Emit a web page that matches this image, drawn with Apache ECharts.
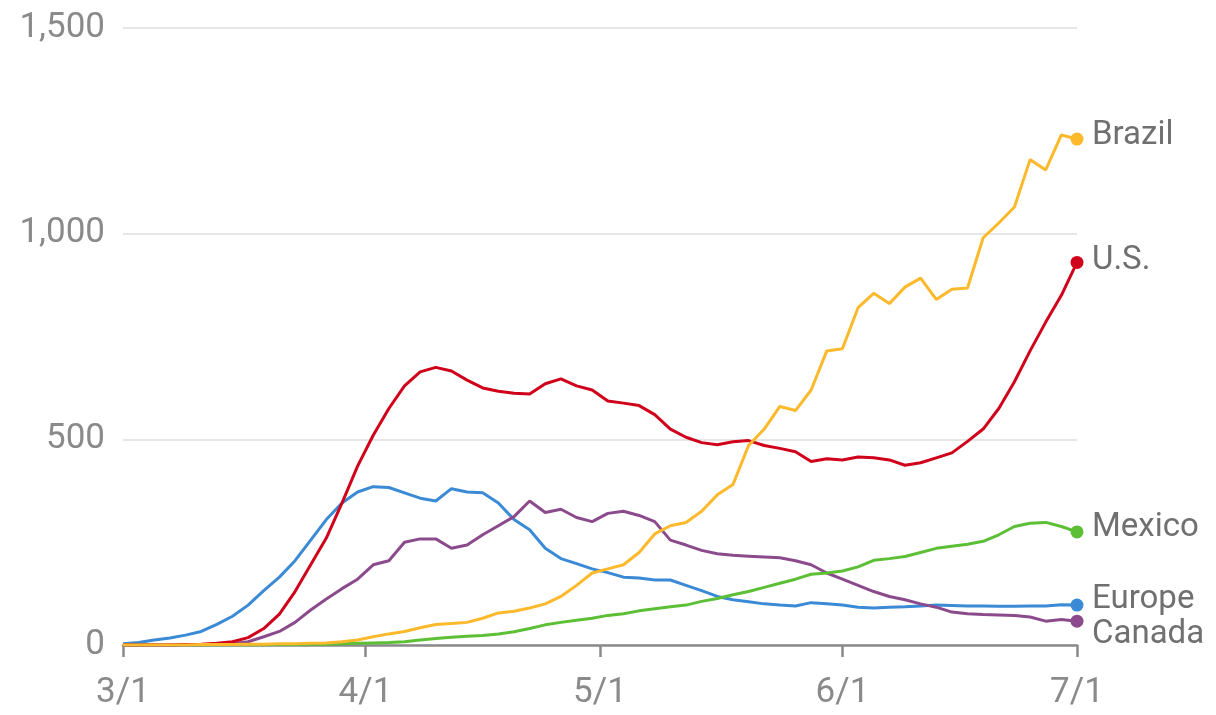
<!DOCTYPE html>
<html>
<head>
<meta charset="utf-8">
<script src="https://cdn.jsdelivr.net/npm/echarts@6/dist/echarts.min.js"></script>
<style>
  html, body { margin: 0; padding: 0; background: #fff; }
  #myChart { width: 1216px; height: 715px; }
</style>
</head>
<body>
<div id="myChart"></div>
<script>
// days since 3/1, sampled every other day
var days = [0,2,4,6,8,10,12,14,16,18,20,22,24,26,28,30,32,34,36,38,40,42,44,46,48,50,52,54,56,58,60,
  62,64,66,68,70,72,74,76,78,80,82,84,86,88,90,92,94,96,98,100,102,104,106,108,110,112,114,116,118,120,122];

var tickDays = [0, 31, 61, 92, 122];
var tickLabels = ['3/1', '4/1', '5/1', '6/1', '7/1'];
var yTicks = [0, 500, 1000, 1500];

var europe = [3,6,12,17,24,33,50,70,97,132,165,205,255,305,345,372,385,383,370,357,350,380,372,370,345,305,280,235,210,198,185,
  176,165,163,158,158,145,132,118,110,105,100,97,95,103,100,97,92,90,92,93,95,97,96,95,95,94,94,95,95,98,97];

var canada = [0,0,0,0,0,0,1,3,8,20,33,55,85,112,137,160,195,205,250,258,258,235,243,268,290,312,350,322,330,310,300,
  320,325,315,300,255,243,230,222,218,216,214,212,205,195,175,160,145,130,118,110,100,92,80,76,74,73,72,68,58,62,58];

var mexico = [0,0,0,0,0,0,0,0,0,0,1,1,2,2,3,4,5,6,8,12,16,19,21,23,27,32,40,49,55,60,65,
  72,76,83,88,93,97,106,113,122,130,140,150,160,172,175,180,190,206,210,215,225,235,240,245,252,268,288,296,298,288,275];

var us = [0,0,0,0,1,2,4,8,18,40,75,130,195,260,345,435,510,575,630,664,675,666,644,625,617,612,610,635,647,630,620,
  593,588,582,560,525,505,492,487,494,497,485,478,470,446,453,450,457,455,450,437,443,455,467,495,525,575,640,715,785,850,930];

var brazil = [0,0,0,0,0,1,1,1,2,2,3,3,4,5,8,12,20,27,33,42,50,52,55,65,78,82,90,100,118,145,175,
  185,195,225,270,290,298,325,365,390,485,525,580,570,620,715,720,820,855,830,870,892,840,865,868,990,1026,1065,1180,1155,1240,1230];

var names = ['Europe', 'Canada', 'Mexico', 'U.S.', 'Brazil'];
var colors = ['#3a8ad6', '#8b4a8c', '#5cbf35', '#d0021b', '#fdb92c'];
var values = [europe, canada, mexico, us, brazil];
var labelShift = [-5, 14, -4, -2, -3];

var myChart = echarts.init(document.getElementById('myChart'));

var series = names.map(function (name, i) {
  var vals = values[i];
  var data = vals.map(function (v, k) {
    if (k === vals.length - 1) {
      return { value: [days[k], v], symbol: 'circle', symbolSize: 13 };
    }
    return [days[k], v];
  });
  return {
    name: name,
    type: 'line',
    data: data,
    symbol: 'none',
    showSymbol: true,
    color: colors[i],
    lineStyle: { width: 3, color: colors[i] },
    itemStyle: { color: colors[i] },
    silent: true,
    z: 2 + i,
    endLabel: {
      show: true,
      formatter: name,
      color: '#707070',
      fontFamily: 'Roboto',
      fontSize: 33,
      distance: 15,
      offset: [0, labelShift[i]]
    }
  };
});

myChart.setOption({
  animation: false,
  grid: { left: 123, right: 139, top: 28, bottom: 70 },
  xAxis: {
    type: 'value',
    min: 0,
    max: 122,
    splitLine: { show: false },
    axisLine: { show: true, lineStyle: { color: '#8a8a8a', width: 2.5 } },
    axisTick: {
      show: true,
      customValues: tickDays,
      length: 12,
      lineStyle: { color: '#8a8a8a', width: 2.5 }
    },
    axisLabel: {
      customValues: tickDays,
      margin: 31,
      color: '#8a8a8a',
      fontFamily: 'Roboto',
      fontSize: 35,
      formatter: function (v) {
        var idx = tickDays.indexOf(v);
        return idx >= 0 ? tickLabels[idx] : '';
      }
    }
  },
  yAxis: {
    type: 'value',
    min: 0,
    max: 1500,
    interval: 500,
    axisLine: { show: false },
    axisTick: { show: false },
    axisLabel: {
      margin: 18,
      color: '#8a8a8a',
      fontFamily: 'Roboto',
      fontSize: 35,
      formatter: function (v) {
        return yTicks.indexOf(v) >= 0 ? v.toLocaleString('en-US') : '';
      }
    },
    splitLine: { lineStyle: { color: '#e6e6e6', width: 2 } }
  },
  series: series
});
window.onresize = myChart.resize;
</script>
</body>
</html>
